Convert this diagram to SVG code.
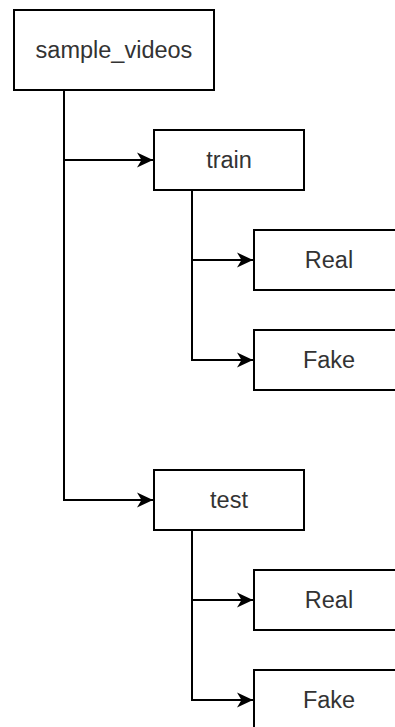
<svg xmlns="http://www.w3.org/2000/svg" width="395" height="727" viewBox="0 0 395 727">
<style>
.box{fill:#fff;stroke:#000;stroke-width:2}
.lbl{font-family:"Liberation Sans",Arial,sans-serif;font-size:23.5px;fill:#333;text-anchor:middle}
.edge{fill:none;stroke:#000;stroke-width:2}
</style>
<defs>
<marker id="arr" markerUnits="userSpaceOnUse" markerWidth="18" markerHeight="18" viewBox="0 0 18 18" refX="16" refY="9" orient="auto">
<path d="M0,1.5 L16,9 L0,16.5 L4.5,9 Z" fill="#000"/>
</marker>
</defs>
<rect width="395" height="727" fill="#fff"/>
<g id="connectors">
<path class="edge" d="M64,90 V160 H153" marker-end="url(#arr)"/>
<path class="edge" d="M64,90 V500 H153" marker-end="url(#arr)"/>
<path class="edge" d="M192,190 V260 H253" marker-end="url(#arr)"/>
<path class="edge" d="M192,190 V360 H253" marker-end="url(#arr)"/>
<path class="edge" d="M192,530 V600 H253" marker-end="url(#arr)"/>
<path class="edge" d="M192,530 V700 H253" marker-end="url(#arr)"/>
</g>
<g id="sample_videos">
<rect class="box" x="14" y="10" width="200" height="80"/>
<text class="lbl" x="114" y="58">sample_videos</text>
</g>
<g id="train">
<rect class="box" x="154" y="130" width="150" height="60"/>
<text class="lbl" x="229" y="168">train</text>
</g>
<g id="train_real">
<rect class="box" x="254" y="230" width="150" height="60"/>
<text class="lbl" x="329" y="268">Real</text>
</g>
<g id="train_fake">
<rect class="box" x="254" y="330" width="150" height="60"/>
<text class="lbl" x="329" y="368">Fake</text>
</g>
<g id="test">
<rect class="box" x="154" y="470" width="150" height="60"/>
<text class="lbl" x="229" y="508">test</text>
</g>
<g id="test_real">
<rect class="box" x="254" y="570" width="150" height="60"/>
<text class="lbl" x="329" y="608">Real</text>
</g>
<g id="test_fake">
<rect class="box" x="254" y="670" width="150" height="60"/>
<text class="lbl" x="329" y="708">Fake</text>
</g>
</svg>
